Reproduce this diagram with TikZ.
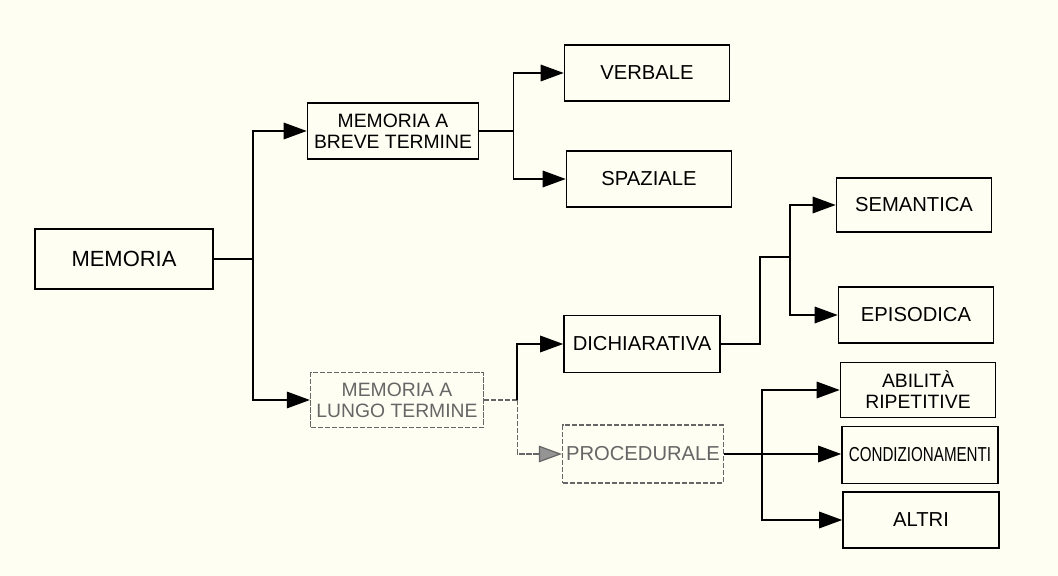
\documentclass[tikz,border=0pt]{standalone}
\usepackage{fontspec}
\setmainfont{Liberation Sans}
\usepackage{tikz}
\usetikzlibrary{
  positioning,
  arrows.meta
}
\definecolor{paper}{HTML}{FEFEF3}
\definecolor{faded}{HTML}{666666}

\begin{document}
\begin{tikzpicture}[
  box/.style={draw, line width=0.9pt, minimum height=1.12cm, minimum width=3.1cm,
              align=center, font=\fontsize{11.5}{12.5}\selectfont, inner sep=2pt},
  fadedbox/.style={box, draw=faded, text=faded, line width=0.7pt, dash pattern=on 3pt off 1pt},
  arr/.style={-{Triangle[length=4.6mm, width=3.3mm]}, line width=0.9pt, black},
  link/.style={line width=0.9pt, black},
  fadedarr/.style={-{Triangle[length=4.6mm, width=3.3mm, fill=faded!70]}, line width=0.7pt, faded,
                   dash pattern=on 3pt off 1pt}
]
  \fill[paper] (0, 0) rectangle (21.16, 11.52);
  \useasboundingbox (0, 0) rectangle (21.16, 11.52);

  % Root
  \node[box, minimum width=3.56cm, minimum height=1.2cm, font=\fontsize{12.5}{13}\selectfont]
    (mem) at (2.48, 6.34) {MEMORIA};

  % Second level
  \node[box, minimum width=3.42cm, font=\fontsize{11}{12}\selectfont]
    (breve) at (7.86, 8.90) {MEMORIA A\\BREVE TERMINE};
  \node[fadedbox, minimum width=3.46cm, minimum height=1.1cm, font=\fontsize{11}{12}\selectfont]
    (lungo) at (7.94, 3.52) {MEMORIA A\\LUNGO TERMINE};

  % Third level
  \node[box, minimum width=3.3cm] (verb) at (12.94, 10.06) {VERBALE};
  \node[box, minimum width=3.3cm] (spaz) at (12.98, 7.94) {SPAZIALE};
  \node[box, minimum width=3.12cm, minimum height=1.14cm] (dich) at (12.84, 4.64) {DICHIARATIVA};
  \node[fadedbox, minimum width=3.14cm, minimum height=1.16cm] (proc) at (12.86, 2.44) {PROCEDURALE};

  % Leaves
  \node[box, minimum height=1.08cm] (sem) at (18.28, 7.42) {SEMANTICA};
  \node[box] (epi) at (18.32, 5.22) {EPISODICA};
  \node[box, minimum height=1.1cm, font=\fontsize{11}{12}\selectfont]
    (abil) at (18.36, 3.72) {ABILITÀ\\RIPETITIVE};
  \node[box, minimum width=3.12cm, minimum height=1.14cm, inner sep=1pt] (cond) at (18.40, 2.42)
    {\scalebox{0.75}[1]{CONDIZIONAMENTI}};
  \node[box, minimum width=3.12cm] (altri) at (18.42, 1.12) {ALTRI};

  % Connectors
  \draw[link] (mem.east) -- ++(0.78, 0) coordinate (j1);
  \draw[arr] (j1) |- (breve.west);
  \draw[arr] (j1) |- (lungo.west);

  \draw[link] (breve.east) -- ++(0.68, 0) coordinate (j2);
  \draw[arr] (j2) |- (verb.west);
  \draw[arr] (j2) |- (spaz.west);

  \draw[link, faded, line width=0.7pt, dash pattern=on 3pt off 1pt] (lungo.east) -- ++(0.66, 0) coordinate (j3);
  \draw[arr] (j3) |- (dich.west);
  \draw[fadedarr] (j3) |- (proc.west);

  \coordinate (j4) at (15.8, 6.38);
  \draw[link] (dich.east) -- ++(0.78, 0) |- (j4);
  \draw[arr] (j4) |- (sem.west);
  \draw[arr] (j4) |- (epi.west);

  \draw[link] (proc.east) -- ++(0.76, 0) coordinate (j5);
  \draw[arr] (j5) -- (j5 -| cond.west);
  \draw[arr] (j5) |- (abil.west);
  \draw[arr] (j5) |- (altri.west);
\end{tikzpicture}
\end{document}
